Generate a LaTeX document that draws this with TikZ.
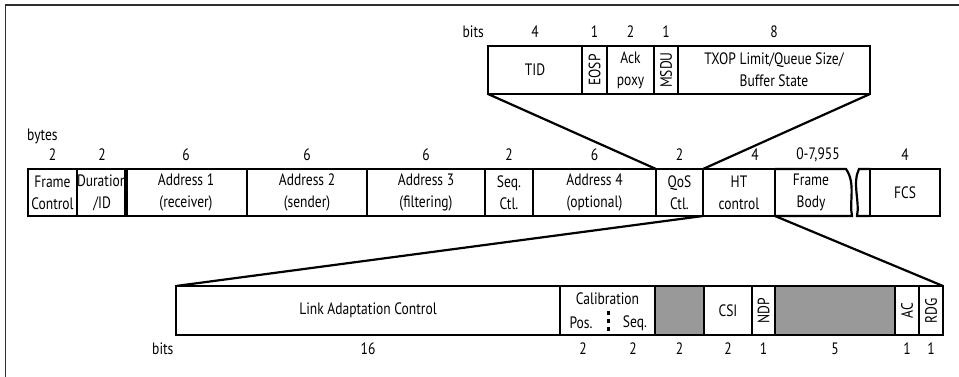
\documentclass[tikz,border=0pt]{standalone}
\usepackage{fontspec}
\setmainfont[FakeStretch=0.82]{PT Sans}
\definecolor{boxgray}{RGB}{153,153,153}
\definecolor{framecol}{RGB}{45,45,45}
\newcommand\lbl{\fontsize{16.5}{22}\selectfont}
\newcommand\mkfield[6]{%
  \node[fld, minimum width={(#3)-(#2)}, minimum height={(#5)-(#4)}] (#1) at (#2,#4) {#6};}
\tikzset{
  fld/.style={draw, line width=2.2pt, inner sep=0pt, outer sep=0pt, anchor=north west, align=center, font=\lbl},
  num/.style={inner sep=0pt, font=\lbl},
  conn/.style={line width=2.2pt},
  brk/.style={line width=2.2pt, line join=miter},
}
\begin{document}
\begin{tikzpicture}[x=1pt,y=-1pt]
\useasboundingbox (0,0) rectangle (959,377);
\draw[framecol, line width=1.5pt] (959,5) -- (5.5,5) -- (5.5,377);

% ---------- main frame row ----------
\def\rowMT{169}\def\rowMB{216}
\mkfield{fc}{28}{77}{\rowMT}{\rowMB}{Frame\\Control}
\mkfield{dur}{77}{125}{\rowMT}{\rowMB}{Duration\\/ID}
\mkfield{a1}{125}{247}{\rowMT}{\rowMB}{Address 1\\(receiver)}
\mkfield{a2}{247}{367}{\rowMT}{\rowMB}{Address 2\\(sender)}
\mkfield{a3}{367}{485}{\rowMT}{\rowMB}{Address 3\\(filtering)}
\mkfield{seq}{485}{533}{\rowMT}{\rowMB}{Seq.\\Ctl.}
\mkfield{a4}{533}{656}{\rowMT}{\rowMB}{Address 4\\(optional)}
\mkfield{qos}{656}{703}{\rowMT}{\rowMB}{QoS\\Ctl.}
\mkfield{htc}{703}{775}{\rowMT}{\rowMB}{HT\\control}
\mkfield{fcs}{870}{940}{\rowMT}{\rowMB}{FCS}
% frame body with break
\draw[brk] (775,\rowMT) -- (846,\rowMT) .. controls (856,\rowMT+14) and (849,\rowMB-14) .. (852,\rowMB) -- (775,\rowMB);
\node[num, align=center] (fb) at (811,192.5) {Frame\\Body};
\draw[brk] (870,\rowMT) -- (859,\rowMT) .. controls (852,\rowMT+14) and (860,\rowMB-14) .. (857,\rowMB) -- (870,\rowMB);

\node[num, anchor=west] (bytes) at (27,136) {bytes};
\coordinate (nrow) at (0,155);
\node[num] (nfc) at (fc |- nrow) {2};
\node[num] (ndur) at (dur |- nrow) {2};
\node[num] (na1) at (a1 |- nrow) {6};
\node[num] (na2) at (a2 |- nrow) {6};
\node[num] (na3) at (a3 |- nrow) {6};
\node[num] (nseq) at (seq |- nrow) {2};
\node[num] (na4) at (a4 |- nrow) {6};
\node[num] (nqos) at (qos |- nrow) {2};
\node[num] (nht) at (755,155) {4};
\node[num] (nfb) at (818,155) {0-7,955};
\node[num] (nfcs) at (fcs |- nrow) {4};

% ---------- QoS control detail ----------
\def\rowQT{46}\def\rowQB{94}
\mkfield{tid}{488}{582}{\rowQT}{\rowQB}{TID}
\mkfield{eosp}{582}{607}{\rowQT}{\rowQB}{\rotatebox{90}{EOSP}}
\mkfield{ack}{607}{654}{\rowQT}{\rowQB}{Ack\\poxy}
\mkfield{msdu}{654}{678}{\rowQT}{\rowQB}{\rotatebox{90}{MSDU}}
\mkfield{txop}{678}{870}{\rowQT}{\rowQB}{TXOP Limit/Queue Size/\\Buffer State}
\coordinate (qrow) at (0,32);
\node[num, anchor=east] (qbits) at (484,32) {bits};
\node[num] (ntid) at (tid |- qrow) {4};
\node[num] (neosp) at (eosp |- qrow) {1};
\node[num] (nack) at (ack |- qrow) {2};
\node[num] (nmsdu) at (msdu |- qrow) {1};
\node[num] (ntxop) at (txop |- qrow) {8};
\draw[conn] (tid.south west) -- (qos.north west);
\draw[conn] (txop.south east) -- (qos.north east);

% ---------- HT control detail ----------
\def\rowHT{286}\def\rowHB{335}
\mkfield{lac}{176}{560}{\rowHT}{\rowHB}{Link Adaptation Control}
\mkfield{cal}{560}{655}{\rowHT}{\rowHB}{}
\node[fld, fill=boxgray, minimum width=49, minimum height=49] (g1) at (655,\rowHT) {};
\mkfield{csi}{704}{752}{\rowHT}{\rowHB}{CSI}
\mkfield{ndp}{752}{775}{\rowHT}{\rowHB}{\rotatebox{90}{NDP}}
\node[fld, fill=boxgray, minimum width=120, minimum height=49] (g2) at (775,\rowHT) {};
\mkfield{ac}{895}{919}{\rowHT}{\rowHB}{\rotatebox{90}{AC}}
\mkfield{rdg}{919}{943}{\rowHT}{\rowHB}{\rotatebox{90}{RDG}}
\node[num] (calt) at (607.5,299) {Calibration};
\node[num] (calp) at (581,323) {Pos.};
\node[num] (cals) at (635,323) {Seq.};
\coordinate (cd1) at (608,311);
\coordinate (cd2) at (608,335);
\draw[line width=3pt, dash pattern=on 4pt off 4pt] (cd1) -- (cd2);
\draw[conn] (htc.south west) -- (lac.north west);
\draw[conn] (htc.south east) -- (rdg.north east);

\coordinate (hrow) at (0,349);
\node[num, anchor=west] (hbits) at (152,349) {bits};
\node[num] (nlac) at (lac |- hrow) {16};
\node[num] (ncp) at (583,349) {2};
\node[num] (ncs) at (633,349) {2};
\node[num] (ng1) at (g1 |- hrow) {2};
\node[num] (ncsi) at (csi |- hrow) {2};
\node[num] (nndp) at (ndp |- hrow) {1};
\node[num] (ng2) at (g2 |- hrow) {5};
\node[num] (nac) at (ac |- hrow) {1};
\node[num] (nrdg) at (rdg |- hrow) {1};
\end{tikzpicture}
\end{document}
